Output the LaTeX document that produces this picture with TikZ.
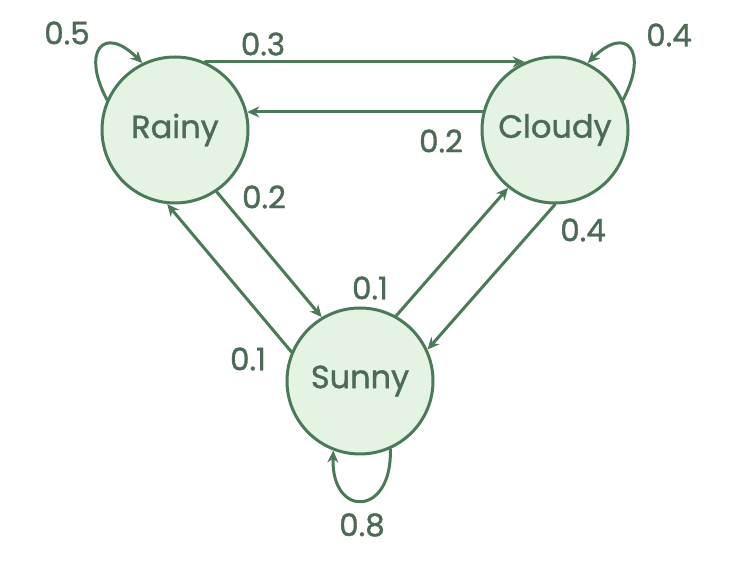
\documentclass[tikz,border=0pt]{standalone}
\usepackage{fontspec}
\setmainfont{Poppins}
\newfontfamily\medfont{Poppins}[FakeBold=1.2]
\usetikzlibrary{arrows.meta}

\definecolor{leaf}{HTML}{4A7A58}
\definecolor{mint}{HTML}{E4F3E2}
\definecolor{ink}{HTML}{4C6A55}

\tikzset{
  weather/.style={circle, draw=leaf, fill=mint, line width=3pt, minimum size=146pt,
    inner sep=0pt, text=ink, font=\medfont\fontsize{32}{36}\selectfont},
  trans/.style={draw=leaf, line width=3pt, -{Stealth[length=12pt,width=11pt]}},
  prob/.style={text=ink, font=\medfont\fontsize{31}{34}\selectfont, inner sep=0pt}
}

\begin{document}
\begin{tikzpicture}[x=1pt, y=1pt, line cap=round, line join=round]
  \useasboundingbox (0,0) rectangle (734,560);
  \node[weather] (rainy)  at (175,430) {Rainy};
  \node[weather] (cloudy) at (555,430) {Cloudy};
  \node[weather] (sunny)  at (360,179) {Sunny};

  % between the states
  \draw[trans] (rainy.66) -- (cloudy.114);
  \draw[trans] (cloudy.166) -- (rainy.14);
  \draw[trans] (rainy.-56) -- (sunny.121);
  \draw[trans] (sunny.157) -- (rainy.-96);
  \draw[trans] (sunny.61) -- (cloudy.-129);
  \draw[trans] (cloudy.-90) -- (sunny.25);

  % self loops
  \draw[trans] (rainy.156) to[out=118, in=135, distance=55pt] (rainy.116);
  \draw[trans] (cloudy.24) to[out=62, in=45, distance=55pt] (cloudy.64);
  \draw[trans] (sunny.-66) to[out=-88, in=-92, distance=68pt] (sunny.-111);

  \node[prob] (p-rr) at (67,527) {0.5};
  \node[prob] (p-rc) at (263,516) {0.3};
  \node[prob] (p-cc) at (669,525) {0.4};
  \node[prob] (p-cr) at (441,419) {0.2};
  \node[prob] (p-rs) at (264,363) {0.2};
  \node[prob] (p-cs) at (583,330) {0.4};
  \node[prob] (p-sc) at (370,272) {0.1};
  \node[prob] (p-sr) at (248,201) {0.1};
  \node[prob] (p-ss) at (362,35) {0.8};
\end{tikzpicture}
\end{document}
